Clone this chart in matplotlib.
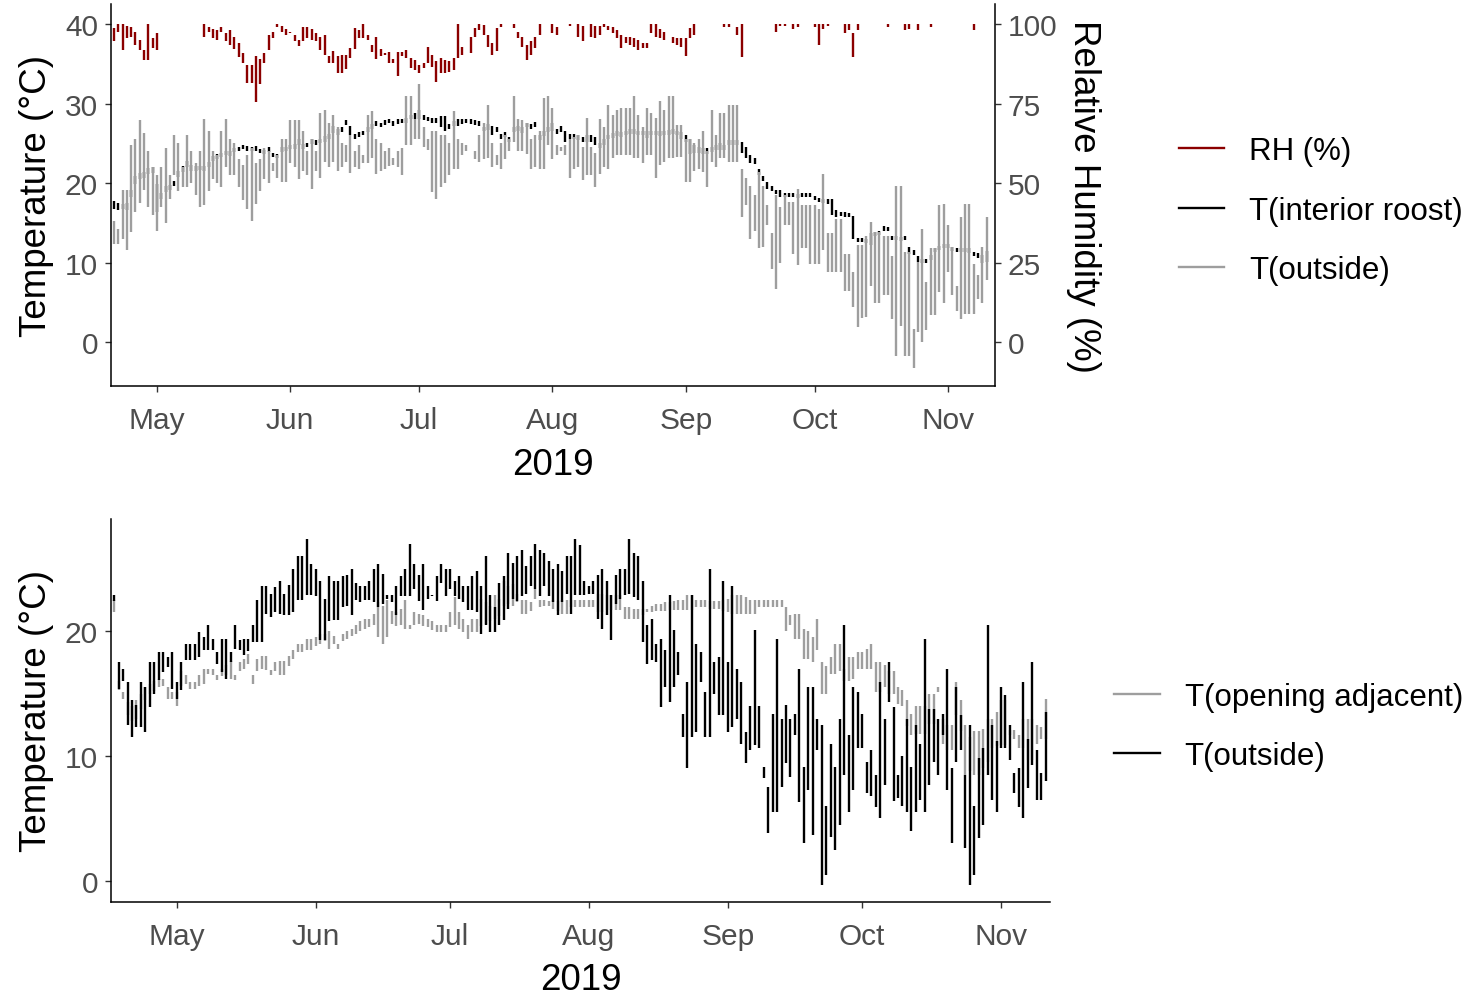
import numpy as np
import matplotlib
matplotlib.use("Agg")
import matplotlib.pyplot as plt
import matplotlib.dates as mdates
from matplotlib.lines import Line2D

plt.rcParams['font.family'] = ['Liberation Sans', 'DejaVu Sans']

# ---- top panel: daily ranges, 21 Apr - 10 Nov 2019 ----
days_top = np.arange('2019-04-21', '2019-11-11', dtype='datetime64[D]')

rh_hi = [98.7, 100, 100, 99.5, 99, 97.6, 95, 91.9, 100, 95.5,
         97, np.nan, np.nan, np.nan, np.nan, np.nan, np.nan, np.nan, np.nan, np.nan,
         np.nan, 100, 99, 98.5, 98, 99, 97, 98, 96, 94,
         91, 87.2, 87.2, 89.8, 89, 91, 96.5, 97.6, 100, 99.5,
         98.5, 97.6, 96.5, 95, 99, 99, 98.5, 97, 96, 96.6,
         89.8, 91.4, 89.8, 90.3, 90.3, 92.4, 98.7, 98.2, 100, 96.6,
         93.4, 95.8, 92, 90.8, 91.3, 89, 91.3, 91.3, 91.9, 89.3,
         88.7, 87.2, 87.7, 92.9, 90.3, 88.2, 89.3, 88.7, 88.5, 89.3,
         100, 92.9, np.nan, 96, 98.7, 100, 99.7, 96.6, 94, 98.7,
         100, np.nan, np.nan, 100, 97.6, 96, 93.4, 94.5, 96, 100,
         np.nan, np.nan, 100, 99, np.nan, np.nan, 100, np.nan, 100, 99.5,
         np.nan, 100, 99.5, 99.5, 100, 99.5, 99, 98, 96.6, 96,
         96, 95.5, 95, 93.9, 93.9, 100, 100, 98.5, 97.6, np.nan,
         96, 95.5, 95.5, 95.5, 98.7, 100, np.nan, np.nan, np.nan, np.nan,
         np.nan, np.nan, 100, 100, np.nan, 99, 100, np.nan, np.nan, np.nan,
         np.nan, np.nan, np.nan, np.nan, 100, 100, 100, np.nan, 100, 100,
         np.nan, np.nan, np.nan, 100, 100, 100, 100, np.nan, np.nan, np.nan,
         100, 100, 97, 100, np.nan, np.nan, np.nan, np.nan, np.nan, np.nan,
         100, np.nan, np.nan, np.nan, 100, 100, np.nan, 100, np.nan, np.nan,
         100, np.nan, np.nan, np.nan, np.nan, np.nan, np.nan, np.nan, np.nan, np.nan,
         100, np.nan, np.nan, np.nan]
rh_lo = [94.5, 97.6, 91.9, 95.5, 96, 93.4, 91.9, 88.7, 88.7, 92.3,
         91.9, np.nan, np.nan, np.nan, np.nan, np.nan, np.nan, np.nan, np.nan, np.nan,
         np.nan, 95.8, 97.6, 95.5, 95, 97.5, 94.5, 93.5, 92, 89.6,
         87.7, 81.4, 81.4, 75.6, 81, 87.7, 91.9, 95.5, 99, 97.6,
         96.5, 97, 94.5, 93, 94.5, 95.5, 95, 94.5, 91.9, 90.3,
         87.7, 87.7, 84.5, 84.5, 86, 89.3, 92, 95.5, 95.5, 95,
         91.3, 89, 90, 90.3, 87.7, 87.7, 83.5, 89.8, 89.3, 86.1,
         85.6, 84.5, 86.1, 87.7, 86.6, 81.7, 84.5, 84.5, 85, 85.6,
         89.3, 90.3, np.nan, 90.8, 96, 98, 96.6, 92.9, 90.3, 91.4,
         99, np.nan, np.nan, 98.7, 95.5, 92.9, 88.7, 90.3, 92.4, 96.6,
         np.nan, np.nan, 97, 96.4, np.nan, np.nan, 99.5, np.nan, 96, 94.5,
         np.nan, 96, 95.5, 96.6, 99, 98, 97, 95.5, 92.4, 94,
         93.4, 92.9, 91.9, 92.4, 92.4, 97, 95.8, 95.5, 95, np.nan,
         93.9, 93.4, 92.9, 90, 95.5, 96.6, np.nan, np.nan, np.nan, np.nan,
         np.nan, np.nan, 99, 99, np.nan, 96.6, 89.6, np.nan, np.nan, np.nan,
         np.nan, np.nan, np.nan, np.nan, 97.6, 99.5, 99.5, np.nan, 98.5, 99,
         np.nan, np.nan, np.nan, 99, 93.4, 98.5, 99.5, np.nan, np.nan, np.nan,
         97, 98, 89.6, 98, np.nan, np.nan, np.nan, np.nan, np.nan, np.nan,
         99, np.nan, np.nan, np.nan, 98, 98.5, np.nan, 98, np.nan, np.nan,
         99, np.nan, np.nan, np.nan, np.nan, np.nan, np.nan, np.nan, np.nan, np.nan,
         98, np.nan, np.nan, np.nan]

int_hi = [17.8, 17.5, 17.4, 17.5, 19.2, 20.9, 21.3, 21.4, 21.9, 22.0,
          19.9, 18.8, 19.6, 19.8, 20.3, 21.5, 22.1, 22.8, 22.3, 22.1,
          22.2, 22.1, 22.6, 23.4, 23.6, 23.8, 24.0, 24.0, 24.4, 24.5,
          24.8, 24.7, 24.6, 24.7, 24.3, 24.2, 24.5, 23.8, 23.7, 24.5,
          24.6, 24.8, 24.9, 25.5, 24.9, 25.0, 25.5, 25.4, 25.6, 25.9,
          26.2, 27.2, 26.8, 27.0, 27.9, 27.2, 26.2, 26.4, 26.6, 27.0,
          27.4, 27.8, 27.6, 27.9, 28.1, 27.8, 28.0, 28.1, 28.2, 28.6,
          28.8, 29.2, 28.5, 28.3, 28.2, 28.2, 28.4, 28.4, 27.4, 27.8,
          28.0, 28.0, 28.0, 28.0, 27.9, 27.8, 27.0, 27.4, 27.2, 27.0,
          26.2, 26.4, 25.8, 27.1, 27.2, 27.0, 27.6, 27.4, 27.7, 26.0,
          26.5, 27.0, 27.5, 26.8, 27.2, 26.5, 26.2, 26.2, 26.0, 25.8,
          26.1, 26.0, 25.8, 25.0, 25.6, 26.0, 26.3, 26.6, 26.4, 26.6,
          26.8, 26.8, 26.6, 26.6, 26.5, 26.6, 26.6, 26.5, 26.6, 26.7,
          26.8, 26.6, 26.4, 26.0, 25.6, 24.8, 24.6, 24.4, 24.4, 24.6,
          24.8, 25.0, 24.8, 25.4, 25.4, 25.4, 25.2, 24.6, 23.5, 23.2,
          21.8, 20.9, 20.2, 19.6, 19.2, 19.1, 18.8, 18.7, 18.7, 18.6,
          18.7, 18.8, 18.7, 18.4, 18.1, 18.0, 18.0, 18.0, 16.6, 16.4,
          16.4, 16.2, 15.9, 13.1, 13.1, 13.0, 13.7, 13.9, 14.0, 14.6,
          14.5, 13.3, 13.3, 13.2, 13.3, 12.0, 11.6, 10.8, 10.5, 10.5,
          11.0, 11.8, 12.1, 12.4, 12.3, 12.0, 11.9, 11.9, 11.8, 11.8,
          11.4, 11.2, 11.0, 11.5]
int_lo = [16.8, 16.6, 16.7, 16.6, 18.2, 19.9, 20.5, 20.6, 21.2, 21.3,
          16.4, 18.0, 18.9, 19.2, 19.7, 20.8, 21.4, 22.0, 21.5, 21.5,
          21.6, 21.5, 22.0, 22.8, 23.0, 23.3, 23.5, 23.4, 23.9, 24.0,
          24.3, 24.1, 24.0, 24.1, 23.8, 23.6, 23.9, 23.3, 23.1, 23.9,
          24.0, 24.3, 24.3, 24.8, 24.3, 24.5, 24.9, 24.8, 25.0, 25.2,
          25.5, 26.3, 26.0, 26.4, 27.3, 26.0, 25.5, 25.8, 26.0, 26.4,
          26.8, 27.2, 27.0, 27.3, 27.5, 27.2, 27.4, 27.5, 27.6, 28.0,
          28.0, 28.0, 27.9, 27.8, 27.6, 27.6, 27.0, 26.5, 26.8, 27.2,
          27.2, 27.4, 27.5, 27.4, 27.3, 27.2, 26.5, 26.7, 26.0, 26.4,
          25.6, 25.8, 25.2, 26.4, 26.5, 26.3, 27.0, 26.8, 27.0, 25.4,
          25.9, 26.4, 26.5, 26.2, 26.4, 25.2, 25.6, 25.6, 25.4, 25.2,
          25.2, 25.2, 24.8, 24.4, 24.8, 25.5, 25.7, 25.9, 25.8, 26.0,
          26.2, 26.2, 26.0, 26.0, 25.7, 26.0, 26.0, 25.9, 26.0, 26.1,
          26.2, 26.0, 25.6, 25.2, 23.7, 23.8, 23.8, 23.6, 23.7, 23.9,
          24.2, 24.2, 24.2, 24.8, 24.8, 24.8, 23.8, 23.2, 22.5, 22.4,
          21.0, 20.3, 19.3, 19.0, 18.6, 18.3, 18.2, 18.2, 18.3, 18.1,
          18.2, 18.3, 18.2, 17.9, 17.6, 17.5, 17.4, 16.0, 15.8, 15.9,
          15.8, 15.7, 13.0, 12.6, 12.6, 12.5, 12.2, 13.4, 13.5, 14.0,
          14.0, 12.8, 12.8, 12.7, 12.8, 11.1, 11.0, 10.1, 10.0, 10.0,
          10.4, 11.3, 11.6, 11.9, 11.8, 11.5, 11.4, 11.4, 11.3, 11.2,
          10.9, 10.6, 10.0, 10.1]

out_hi = [15.3, 14.3, 19.1, 19.1, 24.8, 25.6, 27.9, 26.3, 24.0, 22.0,
          21.0, 22.0, 24.4, 21.0, 26.0, 25.0, 22.0, 26.0, 24.0, 22.5,
          24.0, 28.0, 26.5, 24.0, 23.5, 26.5, 28.0, 25.5, 25.0, 23.0,
          22.3, 23.5, 24.4, 22.5, 23.0, 24.4, 24.0, 22.5, 23.5, 25.5,
          25.5, 27.9, 27.9, 27.9, 26.5, 24.0, 25.5, 24.0, 28.8, 29.2,
          27.5, 28.6, 27.0, 25.0, 24.8, 26.0, 24.0, 24.8, 23.5, 28.5,
          29.0, 25.5, 25.0, 24.0, 24.4, 23.2, 24.0, 24.4, 31.0, 31.0,
          28.0, 32.4, 27.0, 25.6, 26.5, 26.5, 26.0, 26.0, 25.0, 29.0,
          25.6, 25.0, 24.8, 23.3, 24.0, 26.0, 27.5, 29.8, 25.0, 23.5,
          25.0, 26.0, 25.6, 31.0, 28.0, 27.9, 27.5, 25.5, 26.0, 26.5,
          30.7, 30.9, 29.5, 24.8, 24.5, 24.8, 25.6, 25.8, 26.0, 24.5,
          28.2, 24.6, 23.8, 28.0, 27.0, 29.8, 28.6, 29.2, 29.5, 29.5,
          29.5, 30.9, 28.6, 27.0, 29.5, 28.8, 28.2, 30.3, 29.2, 30.9,
          30.9, 27.3, 27.3, 25.6, 25.6, 25.0, 25.6, 26.5, 24.0, 29.2,
          26.0, 28.8, 28.8, 29.8, 29.8, 29.8, 21.8, 20.6, 19.7, 18.5,
          21.4, 19.7, 17.2, 13.7, 18.5, 17.0, 18.5, 17.6, 17.6, 19.3,
          17.2, 17.2, 17.2, 17.2, 16.8, 21.2, 13.7, 13.7, 15.5, 15.5,
          11.1, 11.1, 8.8, 12.2, 12.2, 13.4, 15.1, 13.9, 13.9, 13.4,
          13.4, 10.9, 19.7, 19.7, 11.3, 11.3, 1.7, 10.1, 14.3, 7.6,
          11.8, 11.8, 17.2, 17.4, 14.7, 12.0, 7.1, 15.8, 17.4, 17.4,
          9.9, 8.4, 12.0, 15.8]
out_lo = [12.4, 12.4, 13.0, 11.6, 13.9, 16.4, 17.5, 19.1, 17.0, 16.0,
          14.0, 17.0, 15.0, 18.0, 21.0, 19.0, 19.5, 19.5, 20.0, 18.5,
          17.0, 17.3, 19.0, 20.5, 20.0, 19.5, 22.0, 21.0, 21.0, 19.5,
          17.9, 16.8, 15.2, 17.4, 19.0, 20.5, 20.0, 21.5, 20.6, 20.2,
          20.2, 22.5, 22.0, 20.5, 21.5, 21.0, 19.3, 21.5, 20.6, 22.7,
          22.0, 22.7, 21.5, 22.0, 22.7, 21.3, 22.0, 21.8, 22.5, 22.5,
          23.1, 21.2, 21.5, 21.8, 22.2, 22.3, 22.0, 21.0, 24.8, 24.8,
          25.6, 25.6, 24.5, 24.2, 18.9, 18.0, 19.5, 20.0, 21.0, 21.8,
          21.8, 23.5, 24.0, 23.3, 23.0, 22.7, 23.0, 23.1, 22.0, 22.3,
          21.8, 23.0, 24.0, 25.2, 24.0, 24.0, 23.7, 21.8, 22.0, 21.8,
          21.8, 24.8, 23.0, 23.5, 24.0, 23.5, 20.6, 21.8, 22.0, 20.4,
          21.0, 21.0, 19.5, 21.2, 22.0, 21.8, 23.1, 23.5, 23.5, 23.5,
          23.5, 23.1, 23.1, 22.5, 23.5, 23.5, 20.6, 22.3, 22.7, 23.1,
          23.1, 23.3, 23.3, 20.2, 20.2, 21.5, 21.8, 21.4, 19.5, 22.7,
          22.0, 23.1, 23.1, 22.7, 22.7, 22.7, 15.8, 17.2, 13.0, 14.0,
          11.8, 12.0, 14.7, 9.2, 6.7, 10.0, 14.7, 14.7, 11.1, 9.7,
          11.8, 11.8, 9.9, 9.9, 9.9, 11.6, 8.8, 8.8, 8.8, 8.8,
          6.5, 6.5, 4.4, 1.9, 3.0, 3.2, 7.1, 5.0, 5.0, 5.9,
          5.9, 2.9, -1.7, 2.0, -1.7, -1.7, -3.2, 1.3, 0.0, 1.5,
          3.4, 3.4, 6.3, 5.0, 8.8, 6.0, 4.0, 2.9, 3.6, 3.6,
          3.6, 5.5, 5.0, 7.8]

# ---- bottom panel: daily ranges, 17 Apr - 11 Nov 2019 ----
days_bot = np.arange('2019-04-17', '2019-11-12', dtype='datetime64[D]')

adj_hi = [22.5, 16.0, 15.1, 14.3, 14.0, 14.5, 15.0, 15.5, 15.8, 16.0,
          16.2, 16.2, 15.5, 15.1, 15.1, 16.8, 16.5, 15.9, 15.9, 16.5,
          17.0, 17.0, 17.0, 16.5, 17.0, 17.3, 17.6, 16.5, 17.5, 17.8,
          18.2, 16.5, 17.8, 18.0, 18.0, 16.9, 17.5, 17.6, 17.6, 18.0,
          18.5, 19.0, 19.0, 19.4, 19.4, 19.5, 19.8, 19.8, 20.0, 19.6,
          19.0, 19.8, 20.0, 20.2, 20.5, 20.8, 21.0, 21.0, 21.4, 22.3,
          22.0, 22.5, 21.6, 21.5, 21.8, 22.5, 20.5, 21.5, 21.4, 21.3,
          21.0, 20.8, 20.5, 20.5, 20.5, 21.5, 22.7, 21.5, 21.0, 20.5,
          21.0, 21.0, 22.6, 22.3, 22.0, 22.9, 22.6, 24.0, 23.6, 23.8,
          23.0, 22.5, 22.5, 22.3, 23.4, 22.5, 22.5, 22.4, 22.5, 22.4,
          22.5, 22.5, 22.5, 22.5, 22.5, 22.5, 22.5, 22.5, 23.0, 23.0,
          22.9, 22.9, 22.9, 22.9, 21.9, 21.9, 21.8, 21.8, 21.8, 21.8,
          22.0, 22.2, 22.2, 22.3, 22.3, 22.4, 22.5, 22.5, 22.9, 22.9,
          22.5, 22.5, 22.5, 22.4, 22.4, 22.4, 22.5, 22.6, 22.9, 22.9,
          22.9, 22.7, 22.5, 22.5, 22.5, 22.5, 22.5, 22.5, 22.5, 22.5,
          21.9, 21.3, 21.4, 21.4, 20.2, 20.0, 19.5, 21.0, 17.5, 17.2,
          17.9, 19.0, 19.0, 17.0, 17.9, 17.9, 18.3, 18.3, 18.6, 19.0,
          17.5, 17.5, 17.3, 16.8, 16.8, 15.5, 15.3, 14.5, 13.4, 14.0,
          14.0, 14.0, 15.0, 15.0, 15.5, 13.0, 12.5, 12.5, 15.9, 14.5,
          12.5, 11.5, 12.0, 12.0, 12.2, 13.0, 13.0, 13.5, 14.5, 14.5,
          12.1, 12.1, 11.7, 13.0, 13.0, 13.0, 12.5, 12.3, 14.6]
adj_lo = [21.5, 15.3, 14.6, 13.3, 12.8, 13.0, 13.8, 14.5, 15.0, 15.2,
          15.5, 15.6, 14.6, 14.6, 14.0, 15.6, 15.8, 15.4, 15.4, 15.6,
          15.8, 16.6, 16.5, 16.1, 16.4, 16.5, 16.2, 16.1, 16.8, 17.0,
          17.4, 15.8, 16.8, 17.0, 16.9, 16.5, 16.8, 16.5, 16.5, 17.2,
          17.8, 18.3, 18.3, 18.5, 18.5, 18.8, 19.0, 19.2, 18.6, 19.0,
          18.6, 19.2, 19.4, 19.6, 19.8, 20.0, 20.2, 20.3, 20.5, 19.5,
          19.0, 19.5, 20.6, 20.4, 20.5, 20.2, 20.2, 20.5, 20.6, 20.4,
          20.3, 20.1, 19.9, 19.9, 19.9, 20.3, 20.5, 20.2, 19.9, 19.4,
          19.9, 19.9, 20.4, 20.6, 20.8, 21.0, 21.2, 22.0, 22.2, 22.0,
          22.3, 21.4, 21.4, 21.6, 22.6, 21.9, 22.0, 22.0, 21.8, 21.6,
          21.4, 21.4, 21.9, 21.9, 21.9, 21.9, 21.9, 21.9, 21.5, 21.5,
          21.7, 21.7, 21.7, 21.7, 21.0, 21.0, 21.0, 21.0, 21.3, 21.5,
          21.5, 21.6, 21.6, 21.6, 21.7, 21.7, 21.7, 21.7, 21.7, 21.7,
          21.9, 21.9, 21.9, 21.8, 21.8, 21.8, 21.6, 21.5, 21.4, 21.4,
          21.4, 21.4, 21.4, 21.4, 21.9, 21.9, 21.9, 21.9, 21.9, 21.9,
          20.0, 20.5, 19.4, 19.4, 17.8, 17.8, 17.5, 18.5, 15.0, 15.0,
          16.6, 16.6, 16.8, 16.0, 16.0, 16.2, 17.0, 17.0, 17.0, 17.0,
          15.1, 15.1, 15.5, 15.0, 15.0, 14.2, 14.0, 12.4, 11.7, 11.8,
          11.8, 11.8, 12.6, 12.6, 15.1, 11.0, 10.5, 10.5, 13.3, 12.0,
          8.5, 8.8, 8.5, 8.5, 9.0, 9.5, 10.6, 10.8, 10.9, 10.9,
          11.7, 11.4, 10.6, 10.6, 9.7, 9.7, 11.0, 11.4, 11.4]

ext_hi = [22.9, 17.5, 17.0, 15.9, 14.5, 14.1, 15.9, 15.5, 17.5, 17.5,
          18.3, 18.3, 17.9, 18.3, 15.9, 17.5, 19.0, 19.0, 19.0, 19.9,
          19.5, 20.5, 19.4, 18.3, 19.4, 19.4, 18.3, 20.5, 19.3, 19.4,
          19.4, 20.5, 22.5, 23.6, 23.6, 23.0, 23.5, 24.0, 23.0, 23.7,
          25.0, 26.0, 26.0, 27.4, 25.4, 25.0, 24.0, 22.6, 24.4, 24.0,
          24.0, 24.4, 24.5, 25.0, 23.9, 23.6, 23.6, 24.0, 25.0, 25.4,
          24.6, 22.9, 22.9, 23.6, 24.4, 25.0, 27.0, 25.4, 24.5, 25.4,
          23.6, 22.9, 24.4, 25.4, 25.0, 25.0, 24.0, 24.4, 23.6, 23.6,
          24.4, 24.8, 23.6, 26.0, 22.9, 21.9, 23.9, 24.4, 26.3, 25.5,
          26.0, 26.5, 25.2, 26.0, 27.0, 26.5, 26.3, 25.6, 25.0, 25.4,
          24.8, 26.0, 26.0, 27.4, 26.9, 24.0, 23.6, 24.0, 24.5, 25.0,
          24.0, 22.9, 24.5, 25.0, 25.0, 27.4, 26.3, 26.0, 24.0, 20.5,
          21.0, 19.0, 19.4, 18.5, 22.9, 20.1, 18.3, 13.4, 15.9, 22.9,
          19.0, 18.3, 15.1, 25.0, 17.5, 17.9, 24.0, 17.5, 23.6, 17.0,
          15.9, 11.9, 14.0, 20.1, 14.0, 9.1, 7.5, 13.4, 19.4, 13.0,
          14.1, 13.0, 13.4, 17.0, 9.1, 15.5, 15.5, 13.0, 12.5, 6.0,
          11.0, 9.1, 13.0, 20.5, 11.7, 15.5, 15.1, 13.4, 9.5, 10.5,
          8.5, 15.9, 13.0, 17.5, 13.9, 8.5, 10.0, 13.0, 9.1, 12.5,
          11.0, 19.4, 13.8, 13.8, 13.0, 13.4, 17.0, 9.0, 15.5, 13.3,
          8.5, 12.5, 6.0, 9.8, 10.6, 20.5, 12.5, 11.2, 15.5, 14.9,
          12.5, 8.6, 9.0, 15.9, 11.4, 17.5, 10.5, 8.6, 13.5]
ext_lo = [22.4, 15.4, 16.0, 12.5, 11.5, 12.3, 12.3, 11.9, 13.9, 15.0,
          16.1, 16.7, 17.1, 15.4, 14.6, 15.3, 17.7, 17.7, 17.7, 17.9,
          18.5, 18.5, 18.5, 17.4, 16.7, 16.2, 17.5, 18.6, 18.5, 18.1,
          18.4, 19.1, 19.1, 19.1, 21.4, 21.1, 21.5, 21.4, 21.3, 21.3,
          21.5, 22.5, 22.5, 22.9, 22.9, 22.8, 19.3, 19.3, 20.8, 20.9,
          20.9, 21.9, 22.0, 21.3, 22.5, 22.3, 22.5, 22.5, 22.3, 21.9,
          22.2, 22.6, 22.3, 21.3, 22.8, 22.8, 22.8, 23.4, 22.4, 21.7,
          22.6, 22.8, 22.4, 23.9, 22.8, 23.4, 22.8, 22.6, 22.3, 21.7,
          21.7, 21.5, 19.8, 20.5, 19.9, 19.9, 20.5, 20.9, 21.8, 22.6,
          22.4, 22.8, 23.0, 23.6, 23.4, 22.8, 23.6, 22.8, 22.3, 21.3,
          22.3, 23.0, 21.4, 22.9, 22.9, 22.9, 23.0, 23.0, 21.0, 20.2,
          21.3, 19.3, 22.2, 22.6, 22.9, 23.0, 22.7, 22.5, 19.1, 17.4,
          17.7, 17.5, 13.9, 15.5, 14.3, 15.5, 16.5, 11.5, 9.0, 11.5,
          11.9, 15.9, 11.5, 11.5, 15.0, 13.3, 13.3, 11.9, 12.3, 13.0,
          11.0, 9.4, 10.5, 10.9, 10.6, 8.2, 3.8, 5.5, 5.5, 7.5,
          9.4, 8.3, 11.7, 6.3, 3.0, 7.3, 3.7, 10.5, -0.3, 0.5,
          3.5, 2.5, 4.5, 8.5, 5.5, 7.3, 10.6, 10.6, 7.0, 6.8,
          5.9, 5.0, 7.7, 14.3, 6.4, 6.6, 6.0, 5.5, 4.0, 5.5,
          6.5, 5.5, 7.7, 9.5, 8.5, 11.7, 7.3, 3.0, 9.5, 10.5,
          2.6, -0.3, 0.5, 3.4, 4.5, 8.5, 6.5, 5.5, 10.6, 10.6,
          9.7, 7.0, 5.9, 5.0, 7.4, 9.3, 6.5, 6.5, 8.0]

assert len(rh_hi) == len(rh_lo) == len(int_hi) == len(int_lo) == len(out_hi) == len(out_lo) == len(days_top)
assert len(adj_hi) == len(adj_lo) == len(ext_hi) == len(ext_lo) == len(days_bot)

RED = '#8B0000'
GREY = '#9E9E9E'
LW = 1.7
TICK_FS = 21.5
TITLE_FS = 26.5
LEG_FS = 22.5


def style_axis(ax):
    for side in ('top', 'right'):
        ax.spines[side].set_visible(False)
    for side in ('left', 'bottom'):
        ax.spines[side].set_linewidth(1.1)
    ax.tick_params(direction='out', length=4.3, width=1, color='#333333',
                   labelsize=TICK_FS, labelcolor='#4D4D4D')
    ax.tick_params(axis='x', pad=10)
    ax.tick_params(axis='y', pad=5)
    ax.xaxis.set_major_locator(mdates.MonthLocator(bymonth=range(5, 12)))
    ax.xaxis.set_major_formatter(mdates.DateFormatter('%b'))
    ax.set_xlabel('2019', fontsize=TITLE_FS, labelpad=9)
    ax.set_ylabel('Temperature (°C)', fontsize=TITLE_FS, labelpad=8)


fig = plt.figure(figsize=(14.79, 10.03), dpi=100)

# top panel
ax1 = fig.add_axes([0.075, 0.614, 0.5977, 0.381])
ax1r = ax1.twinx()
ax1r.vlines(days_top, rh_lo, rh_hi, color=RED, lw=LW)
ax1.vlines(days_top, int_lo, int_hi, color='black', lw=LW)
ax1.vlines(days_top, out_lo, out_hi, color=GREY, lw=LW)
ax1.set_ylim(-5.5, 42.5)
ax1r.set_ylim(-5.5 * 2.5, 42.5 * 2.5)
ax1.set_xlim(np.datetime64('2019-04-20T07'), np.datetime64('2019-11-11T22'))
ax1.set_yticks([0, 10, 20, 30, 40])
ax1r.set_yticks([0, 25, 50, 75, 100])
style_axis(ax1)
for side in ('top', 'left', 'bottom'):
    ax1r.spines[side].set_visible(False)
ax1r.spines['right'].set_linewidth(1.1)
ax1r.tick_params(direction='out', length=4.3, width=1, color='#333333',
                 labelsize=TICK_FS, labelcolor='#4D4D4D', pad=5)
ax1r.set_ylabel('Relative Humidity (%)', fontsize=TITLE_FS, rotation=-90,
                va='bottom', labelpad=6)

handles = [Line2D([], [], color=RED, lw=LW),
           Line2D([], [], color='black', lw=LW),
           Line2D([], [], color=GREY, lw=LW)]
fig.legend(handles, ['RH (%)', 'T(interior roost)', 'T(outside)'],
           loc='center left', bbox_to_anchor=(0.797, 0.789), frameon=False,
           fontsize=LEG_FS, handlelength=1.45, handletextpad=0.8,
           labelspacing=0.95, borderpad=0, borderaxespad=0)

# bottom panel
ax2 = fig.add_axes([0.075, 0.0997, 0.635, 0.382])
ax2.vlines(days_bot, adj_lo, adj_hi, color=GREY, lw=LW)
ax2.vlines(days_bot, ext_lo, ext_hi, color='black', lw=LW)
ax2.set_ylim(-1.7, 29.0)
ax2.set_xlim(np.datetime64('2019-04-16T07'), np.datetime64('2019-11-11T23'))
ax2.set_yticks([0, 10, 20])
style_axis(ax2)

handles2 = [Line2D([], [], color=GREY, lw=LW),
            Line2D([], [], color='black', lw=LW)]
fig.legend(handles2, ['T(opening adjacent)', 'T(outside)'],
           loc='center left', bbox_to_anchor=(0.7535, 0.2747), frameon=False,
           fontsize=LEG_FS, handlelength=1.45, handletextpad=0.8,
           labelspacing=0.95, borderpad=0, borderaxespad=0)

fig.savefig('out.png', dpi=100)
